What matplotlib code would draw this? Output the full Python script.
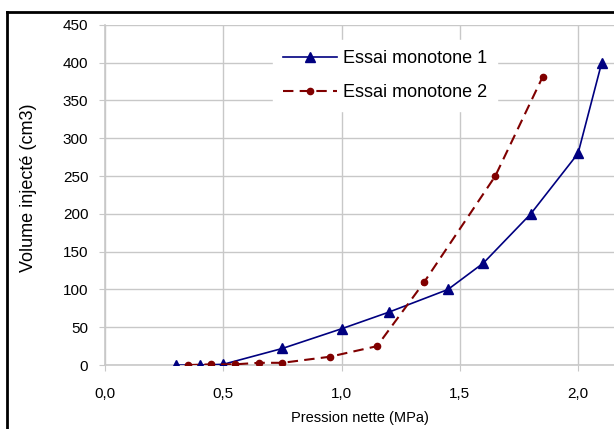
import matplotlib
matplotlib.use("Agg")
import matplotlib.pyplot as plt
from matplotlib.lines import Line2D
from matplotlib.ticker import FuncFormatter

# Essai monotone 1
p1 = [0.30, 0.40, 0.50, 0.75, 1.00, 1.20, 1.45, 1.60, 1.80, 2.00, 2.10]
v1 = [0, 0, 1, 22, 48, 70, 100, 135, 200, 280, 400]
# Essai monotone 2
p2 = [0.35, 0.45, 0.55, 0.65, 0.75, 0.95, 1.15, 1.35, 1.65, 1.85]
v2 = [0, 1, 1, 3, 3, 11, 25, 110, 250, 381]

xticks = [0.0, 0.5, 1.0, 1.5, 2.0]
yticks = [0, 50, 100, 150, 200, 250, 300, 350, 400, 450]

plt.rcParams['font.family'] = ['Liberation Sans', 'DejaVu Sans']
plt.rcParams['font.size'] = 11

fig = plt.figure(figsize=(6.14, 4.29), dpi=100)
ax = fig.add_axes([0.171, 0.149, 0.829, 0.793])

grid_c = '#c8c8c8'
ax.plot(p1, v1, '-', color='#000080', lw=1.2, marker='^', ms=6.5,
        label='Essai monotone 1', zorder=3)
ax.plot(p2, v2, '--', color='#800000', lw=1.5, marker='o', ms=4.5,
        dashes=(5, 3), label='Essai monotone 2', zorder=3)

ax.set_xlim(0, 2.152)
ax.set_ylim(0, 450)
ax.set_xticks(xticks)
ax.set_yticks(yticks)
ax.xaxis.set_major_formatter(FuncFormatter(lambda x, pos: f"{x:.1f}".replace('.', ',')))
ax.grid(True, color=grid_c, lw=1)
ax.set_axisbelow(True)
for s in ['top', 'right']:
    ax.spines[s].set_visible(False)
for s in ['left', 'bottom']:
    ax.spines[s].set_color(grid_c)
    ax.spines[s].set_linewidth(1.2)
ax.tick_params(colors=grid_c, length=4, labelcolor='black')
ax.tick_params(axis='x', pad=12)
ax.tick_params(axis='y', pad=8)

ax.set_xlabel('Pression nette (MPa)', fontsize=10.5, labelpad=7)
ax.set_ylabel('Volume injecté (cm3)', fontsize=13)
ax.yaxis.set_label_coords(-0.133, 0.52)

leg = ax.legend(loc='upper left', bbox_to_anchor=(264 / 614, 1 - 31 / 429),
                bbox_transform=fig.transFigure, frameon=True,
                framealpha=1, edgecolor='white', fancybox=False,
                handlelength=3.0, handletextpad=0.3, labelspacing=0.95,
                borderpad=0.55, fontsize=13)

# black frame (left and top visible)
fig.add_artist(Line2D([7 / 614, 7 / 614], [0, 1 - 12 / 429], color='black', lw=2))
fig.add_artist(Line2D([7 / 614, 1], [1 - 12 / 429, 1 - 12 / 429], color='black', lw=2))

fig.savefig('out.png', dpi=100)
